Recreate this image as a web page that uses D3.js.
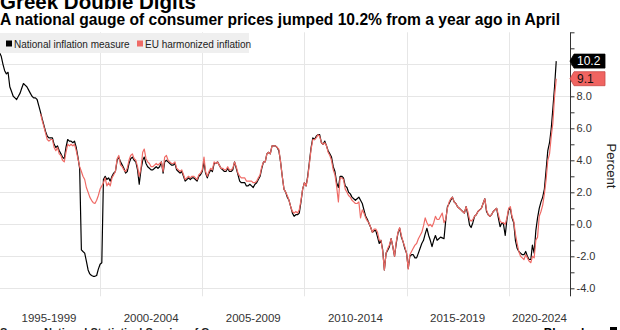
<!DOCTYPE html>
<html><head><meta charset="utf-8">
<script src="https://cdn.jsdelivr.net/npm/d3@7"></script>
<style>
html,body{margin:0;padding:0;background:#fff;overflow:hidden}
svg{display:block;font-family:"Liberation Sans",Arial,sans-serif}
</style></head><body>
<svg id="c" width="620" height="330"></svg>
<script>
// ---- data ----
const titleText = "Greek Double Digits";
const subtitleText = "A national gauge of consumer prices jumped 10.2% from a year ago in April";
const seriesNames = ["National inflation measure", "EU harmonized inflation"];
const nationalStart = [1995, 0];   // Jan 1995
const hicpStart = [1997, 0];       // Jan 1997
const nationalValues = [
 10.7,10.5,10.0,9.6,9.4,9.5,8.6,8.3,8.0,7.9,7.8,8.0,
 8.2,8.5,8.8,8.7,8.6,8.4,8.2,8.0,7.9,7.9,7.8,7.4,
 7.0,6.6,6.2,5.8,5.5,5.4,5.4,5.4,5.0,4.8,4.9,4.6,
 4.4,4.2,4.1,4.8,5.3,5.2,5.2,5.1,5.2,4.8,4.2,3.5,
 -1.6,-1.7,-1.8,-2.3,-2.85,-3.1,-3.2,-3.25,-3.25,-3.2,-2.8,-2.5,
 -2.4,2.8,3.0,2.8,2.9,2.7,3.0,3.2,3.3,4.0,4.2,3.9,
 3.7,3.5,3.2,3.3,3.8,4.1,4.2,4.0,3.9,3.4,2.5,3.4,
 4.0,4.2,3.8,3.6,3.5,3.4,3.4,3.5,3.6,3.5,3.6,3.9,
 3.2,3.9,4.0,3.9,3.8,3.7,3.7,3.8,3.4,3.3,3.2,3.3,
 3.0,2.7,2.8,2.9,2.8,2.9,2.9,2.8,2.7,3.0,3.1,3.3,
 3.9,3.2,2.9,3.2,3.4,3.3,3.8,3.8,3.9,3.7,3.5,3.4,
 3.3,3.3,3.5,3.3,3.3,3.4,3.9,3.5,3.1,2.7,2.6,2.6,
 2.6,2.4,2.4,2.5,2.4,2.3,2.5,2.6,2.8,3.0,3.5,3.9,
 3.9,4.4,4.5,4.4,4.9,4.9,4.9,4.8,4.6,3.9,3.0,2.2,
 2.0,1.7,1.5,1.1,0.7,0.5,0.6,0.6,0.7,1.4,2.2,2.6,
 2.4,3.0,3.9,4.8,5.4,5.3,5.5,5.6,5.6,5.1,5.0,5.2,
 4.9,4.6,4.4,4.2,3.6,3.3,2.6,2.3,3.0,3.0,2.9,2.4,
 2.3,2.0,1.9,1.7,1.6,1.5,1.6,1.7,1.5,1.3,0.9,0.5,
 0.3,0.05,-0.2,-0.5,-0.4,-0.4,-0.8,-1.2,-1.0,-1.6,-2.85,-1.8,
 -1.6,-1.4,-0.9,-1.4,-2.0,-1.2,-0.55,-0.25,-0.8,-1.1,-1.5,-1.8,
 -2.75,-2.0,-1.9,-1.9,-2.1,-2.1,-1.8,-1.5,-1.2,-1.0,-0.6,-0.25,
 -0.7,-1.0,-1.4,-1.0,-0.7,-1.0,-0.9,-0.8,-0.85,-0.9,0.2,1.1,
 1.3,1.5,1.7,1.4,1.3,1.1,1.0,0.9,0.8,0.7,1.1,0.6,
 -0.05,-0.2,0.1,0.5,0.6,0.8,0.9,1.0,1.3,1.6,0.8,0.6,
 0.5,0.6,0.8,0.9,1.0,0.4,-0.15,0.1,0.0,-0.7,0.3,0.9,
 1.0,0.4,0.1,-1.0,-1.5,-1.7,-1.8,-1.9,-1.9,-1.7,-2.0,-2.2,
 -2.2,-1.3,-1.8,-0.4,0.4,1.0,1.4,1.7,2.2,3.4,4.6,5.1,
 6.0,7.2,8.6,10.2
];
const hicpValues = [
 6.9,6.5,6.1,5.7,5.3,5.2,5.3,5.3,4.8,4.6,4.8,4.4,
 4.3,4.0,3.9,4.5,5.0,4.9,5.0,4.9,5.0,4.6,4.1,3.6,
 3.3,3.0,2.8,2.3,2.0,1.7,1.5,1.35,1.3,1.5,1.8,2.2,
 2.4,2.6,2.9,2.4,2.6,2.4,2.9,3.1,3.3,4.1,4.3,3.7,
 3.6,3.4,3.3,3.5,4.0,4.3,4.4,4.1,4.0,3.6,3.0,3.5,
 4.5,4.7,4.1,3.9,3.8,3.6,3.6,3.7,3.8,3.7,3.8,3.9,
 3.3,4.2,4.3,4.0,3.9,3.8,3.8,3.9,3.5,3.4,3.3,3.4,
 3.1,2.8,2.9,3.0,2.9,3.0,3.0,2.9,2.8,3.1,3.2,3.4,
 4.2,3.3,3.0,3.3,3.5,3.4,3.9,3.8,3.9,3.7,3.5,3.5,
 3.4,3.4,3.6,3.4,3.4,3.5,3.9,3.6,3.2,3.0,2.9,2.9,
 2.9,2.7,2.7,2.7,2.7,2.6,2.6,2.7,2.9,3.1,3.6,3.9,
 3.9,4.4,4.5,4.4,4.9,4.9,4.9,4.8,4.7,3.9,3.0,2.2,
 2.0,1.8,1.5,1.1,0.8,0.7,0.8,0.7,0.9,1.5,2.2,2.6,
 2.4,2.9,3.8,4.7,5.3,5.3,5.4,5.6,5.5,5.1,5.0,5.1,
 4.9,4.5,4.3,4.0,3.4,3.1,2.35,1.4,2.9,2.9,2.8,2.2,
 2.0,1.8,1.7,1.5,1.4,1.3,1.3,1.4,0.4,0.9,0.7,0.4,
 0.2,0.1,-0.2,-0.5,-0.3,-0.3,-0.5,-1.0,-1.0,-1.7,-2.85,-1.8,
 -1.5,-1.3,-0.9,-1.4,-2.0,-1.1,-0.5,-0.2,-0.7,-1.1,-1.4,-1.8,
 -2.8,-1.9,-1.7,-1.5,-1.3,-1.2,-0.9,-0.7,-0.5,-0.1,0.4,0.1,
 -0.1,0.0,-0.15,0.1,0.5,0.3,0.3,0.5,0.7,0.1,0.3,1.0,
 1.4,1.6,1.7,1.4,1.3,1.1,1.0,0.9,0.8,0.7,1.1,0.8,
 0.3,0.2,0.3,0.5,0.6,0.8,0.9,1.0,1.3,1.6,0.9,0.6,
 0.5,0.6,0.8,0.9,1.0,0.6,0.2,0.1,0.1,0.0,0.4,1.0,
 1.1,0.5,0.2,-0.6,-1.2,-1.7,-2.0,-2.1,-2.2,-1.9,-2.1,-2.3,
 -2.4,-2.0,-2.1,-1.0,-0.8,0.5,0.8,1.2,1.9,2.8,4.0,4.4,
 5.5,6.3,8.0,9.1
];
const yGridValues = [-4,-2,0,2,4,6,8,10];
const yLabelValues = [-4,-2,0,2,4,6,8];
const xPeriodStarts = [1995,2000,2005,2010,2015,2020];
const xPeriodLabels = ["1995-1999","2000-2004","2005-2009","2010-2014","2015-2019","2020-2024"];
const sourceText = "Source: National Statistical Service of Greece";
const yAxisTitle = "Percent";

// ---- build ----
function toSeries(start, vals){
  return vals.map((v,i)=>({date:new Date(start[0], start[1]+i+1, 0), value:v}));
}
const national = toSeries(nationalStart, nationalValues);
const hicp = toSeries(hicpStart, hicpValues);

const svg = d3.select("#c");
const xLeft = -2, xRight = 570, yTop = 32.3, yBottom = 296.3;
const x = d3.scaleTime().domain([new Date(1995,0,1), new Date(2023,0,1)]).range([xLeft, xRight]);
const y = d3.scaleLinear().domain([-4.5, 12]).range([yBottom, yTop]);

const BLACK = "#000000", RED = "#ef6b66";

// grid
const g = svg.append("g");
g.selectAll("line.h").data(yGridValues).join("line")
  .attr("x1",0).attr("x2",xRight).attr("y1",d=>Math.round(y(d))+0.5).attr("y2",d=>Math.round(y(d))+0.5)
  .attr("stroke","#e6e6e6").attr("stroke-width",1);
g.selectAll("line.v").data(xPeriodStarts.slice(1)).join("line")
  .attr("x1",d=>Math.round(x(new Date(d,0,1)))+0.5).attr("x2",d=>Math.round(x(new Date(d,0,1)))+0.5)
  .attr("y1",yTop).attr("y2",yBottom)
  .attr("stroke","#e6e6e6").attr("stroke-width",1);

// clip
svg.append("clipPath").attr("id","clip").append("rect")
  .attr("x",0).attr("y",yTop).attr("width",xRight).attr("height",yBottom-yTop);

const line = d3.line().x(d=>x(d.date)).y(d=>y(d.value));
const lines = svg.append("g").attr("clip-path","url(#clip)");
lines.append("path").datum(national).attr("d",line)
  .attr("fill","none").attr("stroke",BLACK).attr("stroke-width",1.2).attr("stroke-linejoin","round");
lines.append("path").datum(hicp).attr("d",line)
  .attr("fill","none").attr("stroke",RED).attr("stroke-width",1.2).attr("stroke-linejoin","round");

// legend
const leg = svg.append("g");
leg.append("rect").attr("x",0).attr("y",33).attr("width",249).attr("height",20).attr("fill","#efefef");
leg.append("rect").attr("x",6).attr("y",40.5).attr("width",6).attr("height",6).attr("fill",BLACK);
leg.append("text").attr("x",14).attr("y",47.5).attr("font-size",10).attr("fill","#222").text(seriesNames[0]);
leg.append("rect").attr("x",137).attr("y",40.5).attr("width",6).attr("height",6).attr("fill",RED);
leg.append("text").attr("x",145).attr("y",47.5).attr("font-size",10).attr("fill","#222").text(seriesNames[1]);

// y axis (right)
const yAxis = d3.axisRight(y).tickValues(d3.range(-4,13,1)).tickSize(4)
  .tickFormat(d => yLabelValues.includes(d) ? d3.format(".1f")(d).replace("−","-") : "");
const ya = svg.append("g").attr("transform",`translate(${xRight+0.5},0)`).call(yAxis);
ya.select(".domain").attr("stroke","#333").attr("d",`M0,${yTop}V${yBottom}`);
ya.selectAll(".tick line").attr("stroke","#333");
ya.selectAll(".tick text").attr("font-size",11).attr("fill","#333").attr("x",6)
  .attr("font-family","Liberation Sans, Arial, sans-serif");

// x labels
const xl = svg.append("g");
xPeriodStarts.forEach((yr,i)=>{
  const mid = x(new Date(yr+2, 6, 1));
  const t = xl.append("text").attr("y",322).attr("font-size",11.5).attr("fill","#333")
    .attr("text-anchor","middle").text(xPeriodLabels[i]);
  const w = t.node().getComputedTextLength();
  t.attr("x", Math.min(mid, xRight - 3 - w/2));
});

// value tags
function tag(v, fill, stroke, txtColor){
  const cy = y(v), h = 14, x0 = xRight, x1 = 574, x2 = 605;
  svg.append("path").attr("d",`M${x0},${cy}L${x1},${cy-h/2}H${x2}V${cy+h/2}H${x1}Z`)
    .attr("fill",fill).attr("stroke",stroke).attr("stroke-width",0.8);
  svg.append("text").attr("x",577).attr("y",cy+4.3).attr("font-size",12).attr("fill",txtColor).text(d3.format(".1f")(v));
}
tag(nationalValues[nationalValues.length-1], "#000", "#000", "#fff");
tag(hicpValues[hicpValues.length-1], "#f06461", "#c84a48", "#111");

// y axis title
svg.append("text").attr("transform","translate(607,166) rotate(90)").attr("text-anchor","middle")
  .attr("font-size",13).attr("fill","#222").text(yAxisTitle);

// titles (fitted to the reference widths)
function fitText(sel, target){
  const w = sel.node().getComputedTextLength();
  const fs = parseFloat(sel.attr("font-size"));
  sel.attr("font-size", (fs*target/w).toFixed(2));
}
const tt = svg.append("text").attr("x",0).attr("y",9).attr("font-size",20).attr("font-weight","bold").attr("fill","#000").text(titleText);
fitText(tt, 196);
const st = svg.append("text").attr("x",0).attr("y",25).attr("font-size",13.5).attr("font-weight","bold").attr("fill","#000").text(subtitleText);
fitText(st, 560);

// footer
svg.append("text").attr("x",0).attr("y",336).attr("font-size",11).attr("font-weight","bold").attr("fill","#222").text(sourceText);
svg.append("text").attr("x",607).attr("y",337).attr("font-size",12).attr("font-weight","bold").attr("fill","#000").attr("text-anchor","end").text("Bloomberg");
svg.append("rect").attr("x",610).attr("y",327).attr("width",7).attr("height",7).attr("fill","#000");
</script>
</body></html>
